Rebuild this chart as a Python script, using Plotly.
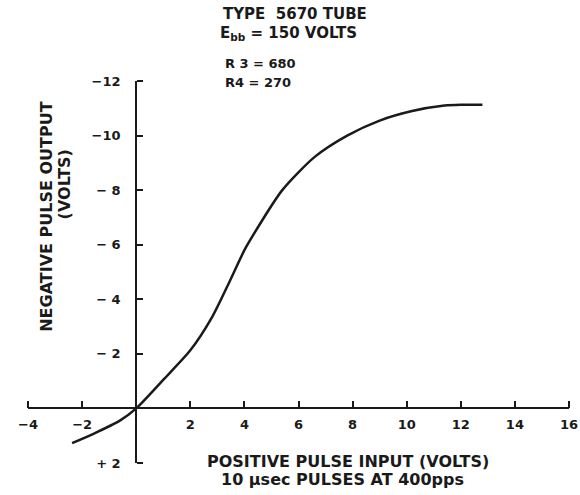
import plotly.graph_objects as go

# Curve data (x: positive pulse input volts, y: output volts; negative up)
input_volts = [-2.37, -1.58, -0.59, 0.0, 1.04, 2.0, 2.8, 3.36, 4.0, 4.2, 5.4, 6.6, 7.8, 9.0, 10.2, 11.4, 12.0, 12.8]
output_volts = [1.27, 0.93, 0.44, 0.0, -1.09, -2.13, -3.34, -4.46, -5.8, -6.15, -8.0, -9.22, -10.0, -10.55, -10.9, -11.1, -11.13, -11.13]

x_range = [-4, 16]
y_range = [2, -12]
x_tick_vals = [-4, -2, 2, 4, 6, 8, 10, 12, 14, 16]
x_tick_text = ["\u22124", "\u22122", "2", "4", "6", "8", "10", "12", "14", "16"]
y_tick_vals = [-12, -10, -8, -6, -4, -2, 2]
y_tick_text = ["\u221212", "\u221210", "\u2212 8", "\u2212 6", "\u2212 4", "\u2212 2", "+ 2"]

FONT = "DejaVu Sans"
INK = "#1a1a1a"

X_POS = (y_range[0] - 0) / (y_range[0] - y_range[1])   # x-axis crosses at y = 0
Y_POS = (0 - x_range[0]) / (x_range[1] - x_range[0])   # y-axis crosses at x = 0

fig = go.Figure()
fig.add_trace(go.Scatter(
    x=input_volts, y=output_volts, mode="lines",
    line=dict(color=INK, width=2.5, shape="spline", smoothing=0.7),
    hoverinfo="skip", showlegend=False,
))
# invisible copy so the tick-only overlay axes are drawn
fig.add_trace(go.Scatter(
    x=input_volts, y=output_volts, mode="lines", xaxis="x2", yaxis="y2",
    line=dict(color="rgba(0,0,0,0)", width=0), hoverinfo="skip", showlegend=False,
))

tickfont = dict(family=FONT, size=13, color=INK, weight="bold")

fig.update_layout(
    width=580, height=495,
    margin=dict(l=28, r=11, t=81, b=32),
    paper_bgcolor="white", plot_bgcolor="white",
    font=dict(family=FONT, size=13, color=INK, weight="bold"),
    xaxis=dict(
        range=x_range, showgrid=False, zeroline=False, automargin=False,
        showline=True, linecolor=INK, linewidth=2,
        anchor="free", position=X_POS, ticks="",
        tickvals=x_tick_vals, ticktext=x_tick_text,
        ticklabelstandoff=4, tickfont=tickfont,
    ),
    yaxis=dict(
        range=y_range, showgrid=False, zeroline=False, automargin=False,
        showline=True, linecolor=INK, linewidth=2,
        anchor="free", position=Y_POS, ticks="",
        tickvals=y_tick_vals, ticktext=y_tick_text,
        ticklabelstandoff=12, tickfont=tickfont,
    ),
    xaxis2=dict(
        range=x_range, overlaying="x", side="top", anchor="free", position=X_POS,
        showgrid=False, zeroline=False, automargin=False, showline=False,
        ticks="outside", ticklen=7, tickwidth=2, tickcolor=INK,
        tickvals=x_tick_vals, showticklabels=False,
    ),
    yaxis2=dict(
        range=y_range, overlaying="y", side="right", anchor="free", position=Y_POS,
        showgrid=False, zeroline=False, automargin=False, showline=False,
        ticks="outside", ticklen=6, tickwidth=2, tickcolor=INK,
        tickvals=y_tick_vals, showticklabels=False,
    ),
)

def ann(text, x, y, xanchor="center", angle=0, size=16):
    fig.add_annotation(
        text=text, x=x, y=y, xref="paper", yref="paper",
        xanchor=xanchor, yanchor="middle", showarrow=False, textangle=angle,
        font=dict(family=FONT, size=size, color=INK, weight="bold"),
    )

ann("TYPE  5670 TUBE", 0.4935, 1.176, size=15)
ann("E<sub>bb</sub> = 150 VOLTS", 0.482, 1.124, size=15)
ann("R 3 = 680", 0.360, 1.047, xanchor="left", size=13)
ann("R4 = 270", 0.360, 0.997, xanchor="left", size=13)
ann("NEGATIVE PULSE OUTPUT", 0.035, 0.647, angle=-90)
ann("(VOLTS)", 0.067, 0.730, angle=-90)
ann("POSITIVE PULSE INPUT (VOLTS)", 0.591, 0.003)
ann("10 \u03bcsec PULSES AT 400pps", 0.582, -0.042)

fig.write_html(
    "out.html",
    config={"displayModeBar": False, "staticPlot": True},
    post_script="document.body.style.margin='0';document.documentElement.style.overflow='hidden';",
)
